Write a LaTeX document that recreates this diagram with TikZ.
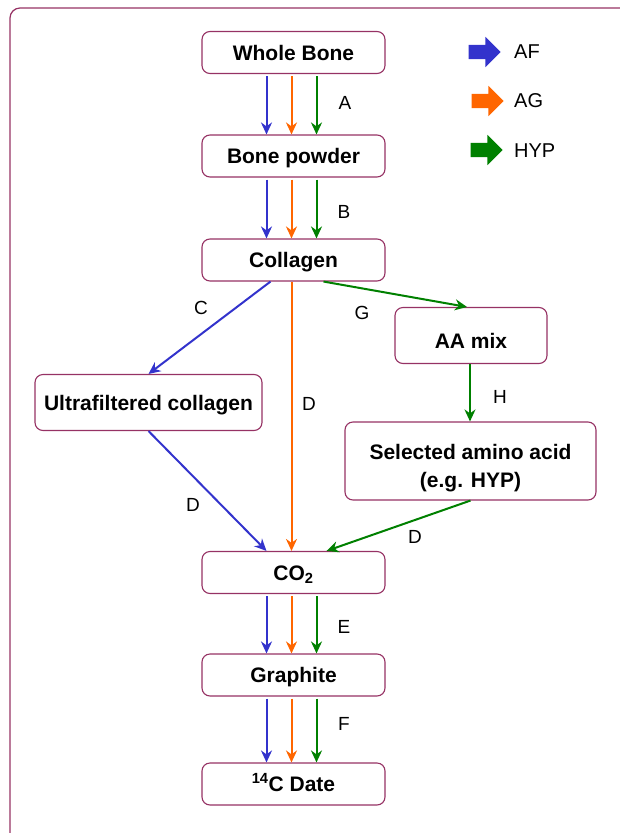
\documentclass[tikz,border=0pt]{standalone}
\usepackage{fontspec}
\setmainfont{Liberation Sans}
\usetikzlibrary{arrows.meta,shapes.arrows}
\definecolor{afblue}{RGB}{51,51,204}
\definecolor{agorange}{RGB}{255,102,0}
\definecolor{hypgreen}{RGB}{0,128,0}
\definecolor{boxline}{RGB}{150,50,100}
\tikzset{
  stage/.style={draw=boxline,line width=1.1pt,rounded corners=8pt,fill=white,
    minimum height=42pt,minimum width=183pt,inner sep=2pt,
    text height=15pt,text depth=0pt,
    font=\fontsize{21}{28.5}\selectfont\bfseries},
  flow/.style={-{Stealth[length=12pt,width=11pt]},line width=2pt},
  lab/.style={font=\fontsize{19}{22}\selectfont,inner sep=0pt},
  key/.style={single arrow,single arrow head extend=8pt,minimum height=32pt,
    inner sep=7pt,draw=none}
}
\begin{document}
\begin{tikzpicture}[x=1pt,y=-1pt]
  \useasboundingbox (0,0) rectangle (620,833);
  \begin{scope}
    \clip (0,0) rectangle (620,833);
    \draw[boxline,line width=1.2pt,rounded corners=10pt] (10,8) rectangle (660,850);
  \end{scope}
  % stages
  \node[stage] (wholebone) at (293.5,52.5) {Whole Bone};
  \node[stage] (powder)    at (293.5,156)  {Bone powder};
  \node[stage] (collagen)  at (293.5,260)  {Collagen};
  \node[stage,minimum width=152pt,minimum height=56pt,text height=26pt] (aamix) at (471,335.5) {AA mix};
  \node[stage,minimum width=227pt,minimum height=56pt] (ultra) at (148.5,402.5) {Ultrafiltered collagen};
  \node[stage,minimum width=251pt,minimum height=78pt,align=center,text height=53.5pt,text depth=0pt]
    (selected) at (470.5,461) {Selected amino acid\\(e.g. HYP)};
  \node[stage] (co2)       at (293.5,572.5) {CO\textsubscript{2}};
  \node[stage] (graphite)  at (293.5,675)  {Graphite};
  \node[stage] (date)      at (293.5,784)  {\textsuperscript{14}C Date};
  % three parallel routes
  \foreach \from/\to in {wholebone/powder,powder/collagen,co2/graphite,graphite/date}
    \foreach \dx/\col in {-27/afblue,-2/agorange,23/hypgreen}
      \draw[flow,\col,shorten <=2pt] ([xshift=\dx]\from.south) -- ([xshift=\dx]\to.north);
  % branches
  \draw[flow,afblue]    ([xshift=-23]collagen.south) -- (ultra.north);
  \draw[flow,agorange]  ([xshift=-2]collagen.south) -- ([xshift=-2]co2.north);
  \draw[flow,hypgreen]  ([xshift=30]collagen.south) -- ([xshift=-4]aamix.north);
  \draw[flow,hypgreen]  ([xshift=-1]aamix.south) -- ([xshift=-1]aamix.south |- selected.north);
  \draw[flow,afblue]    (ultra.south) -- ([xshift=-27]co2.north);
  \draw[flow,hypgreen]  (selected.south) -- ([xshift=33]co2.north);
  % step letters
  \node[lab] (labA)  at (345,103) {A};
  \node[lab] (labB)  at (344,212) {B};
  \node[lab] (labC)  at (201,308) {C};
  \node[lab] (labG)  at (362,313) {G};
  \node[lab] (labD1) at (309,404) {D};
  \node[lab] (labH)  at (500,397) {H};
  \node[lab] (labD2) at (193,505) {D};
  \node[lab] (labD3) at (415,537) {D};
  \node[lab] (labE)  at (344,627) {E};
  \node[lab] (labF)  at (344,724) {F};
  % legend
  \node[key,fill=afblue]   (keyaf)  at (481,52)  {};
  \node[key,fill=agorange] (keyag)  at (484,101) {};
  \node[key,fill=hypgreen] (keyhyp) at (483,150) {};
  \node[lab,anchor=west,font=\fontsize{20}{24}\selectfont] (txtaf)  at (514,52)  {AF};
  \node[lab,anchor=west,font=\fontsize{20}{24}\selectfont] (txtag)  at (514,101) {AG};
  \node[lab,anchor=west,font=\fontsize{20}{24}\selectfont] (txthyp) at (514,151) {HYP};
\end{tikzpicture}
\end{document}
